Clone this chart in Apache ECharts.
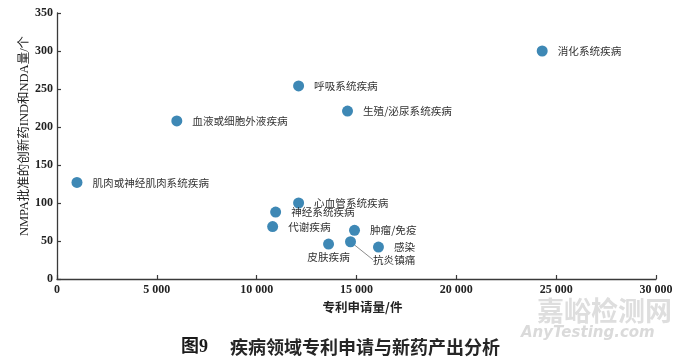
<!DOCTYPE html>
<html>
<head>
<meta charset="utf-8">
<script src="https://cdn.jsdelivr.net/npm/echarts@6/dist/echarts.min.js"></script>
<style>
html,body{margin:0;padding:0;background:#fff;}
#c{width:680px;height:360px;}
</style>
</head>
<body>
<div id="c"></div>
<script>
// ---- data ----
const diseases = ['消化系统疾病','呼吸系统疾病','生殖/泌尿系统疾病','血液或细胞外液疾病','肌肉或神经肌肉系统疾病','心血管系统疾病','神经系统疾病','代谢疾病','肿瘤/免疫','皮肤疾病','抗炎镇痛','感染'];
const patents = [24300, 12100, 14550, 6000, 1000, 12100, 10950, 10800, 14900, 13600, 14700, 16100];
const approvals = [300, 254, 221, 208, 127, 100, 88, 69, 64, 46, 49, 42];
const xTicks = [0, 5000, 10000, 15000, 20000, 25000, 30000];
const yTicks = [0, 50, 100, 150, 200, 250, 300, 350];
const xName = '专利申请量/件';
const yName = 'NMPA批准的创新药IND和NDA量/个';
const captionNo = '图9';
const captionText = '疾病领域专利申请与新药产出分析';

const chart = echarts.init(document.getElementById('c'), null, {renderer: 'canvas'});

const pts = diseases.map((n, i) => {
  const item = {name: n, value: [patents[i], approvals[i]]};
  if (n === '皮肤疾病') item.label = {position: 'bottom', distance: 2};
  if (n === '抗炎镇痛') item.labelLine = {show: true, lineStyle: {color: '#8c8c8c', width: 1}};
  return item;
});
const leaderIdx = diseases.indexOf('抗炎镇痛');

const fmt = v => v >= 1000 ? (Math.floor(v / 1000) + ' ' + String(v % 1000).padStart(3, '0')) : String(v);

const axisCommon = {
  axisLine: {show: true, lineStyle: {color: '#3a3a3a', width: 1.3}},
  axisTick: {show: true, inside: true, length: 4, lineStyle: {color: '#3a3a3a', width: 1.2}},
  splitLine: {show: false},
  axisLabel: {fontFamily: 'Liberation Serif', fontWeight: 'bold', fontSize: 12, color: '#222', margin: 5}
};

chart.setOption({
  backgroundColor: '#fff',
  animation: false,
  grid: {left: 57, right: 24, top: 13, bottom: 81, containLabel: false},
  xAxis: Object.assign({}, axisCommon, {
    type: 'value', min: xTicks[0], max: xTicks[xTicks.length - 1], interval: xTicks[1] - xTicks[0],
    axisLabel: Object.assign({}, axisCommon.axisLabel, {formatter: fmt}),
    name: xName, nameLocation: 'middle', nameGap: 22,
    nameTextStyle: {fontFamily: 'Noto Sans CJK SC', fontWeight: 'bold', fontSize: 12.5, color: '#222', padding: [0, 0, 0, 12]}
  }),
  yAxis: Object.assign({}, axisCommon, {
    type: 'value', min: yTicks[0], max: yTicks[yTicks.length - 1], interval: yTicks[1] - yTicks[0],
    axisLabel: Object.assign({}, axisCommon.axisLabel, {margin: 4}),
    name: yName, nameLocation: 'middle', nameGap: 26, nameMoveOverlap: false,
    nameTextStyle: {fontFamily: 'Liberation Serif, Noto Sans CJK SC', fontSize: 12.5, color: '#222', padding: [0, 0, 0, 20]}
  }),
  title: {
    text: '{a|' + captionNo + '}{b|' + captionText + '}',
    left: 176, top: 333,
    textStyle: {
      rich: {
        a: {fontFamily: 'Liberation Serif, Noto Sans CJK SC', fontWeight: 'bold', fontSize: 18, color: '#1a1a1a', padding: [0, 22, 0, 0]},
        b: {fontFamily: 'Noto Sans CJK SC', fontSize: 18, color: '#262626'}
      }
    }
  },
  graphic: [
    {type: 'text', left: 537, top: 297, z: -1, style: {text: '嘉峪检测网', fontFamily: 'Noto Sans CJK SC', fontWeight: 'bold', fontSize: 27, fill: '#dedede'}},
    {type: 'text', left: 521, top: 326, z: -1, style: {text: 'AnyTesting.com', fontFamily: 'DejaVu Sans', fontStyle: 'italic', fontWeight: 'bold', fontSize: 15, fill: '#dadada'}}
  ],
  series: [{
    type: 'scatter',
    symbolSize: 11,
    itemStyle: {color: '#3e88b5', opacity: 1},
    label: {show: true, formatter: '{b}', position: 'right', distance: 10, color: '#333', fontSize: 10.6, fontFamily: 'Noto Sans CJK SC'},
    labelLayout: function (p) {
      if (p.dataIndex === leaderIdx) return {dx: 7, dy: 18};
      return {};
    },
    data: pts
  }]
});
</script>
</body>
</html>
